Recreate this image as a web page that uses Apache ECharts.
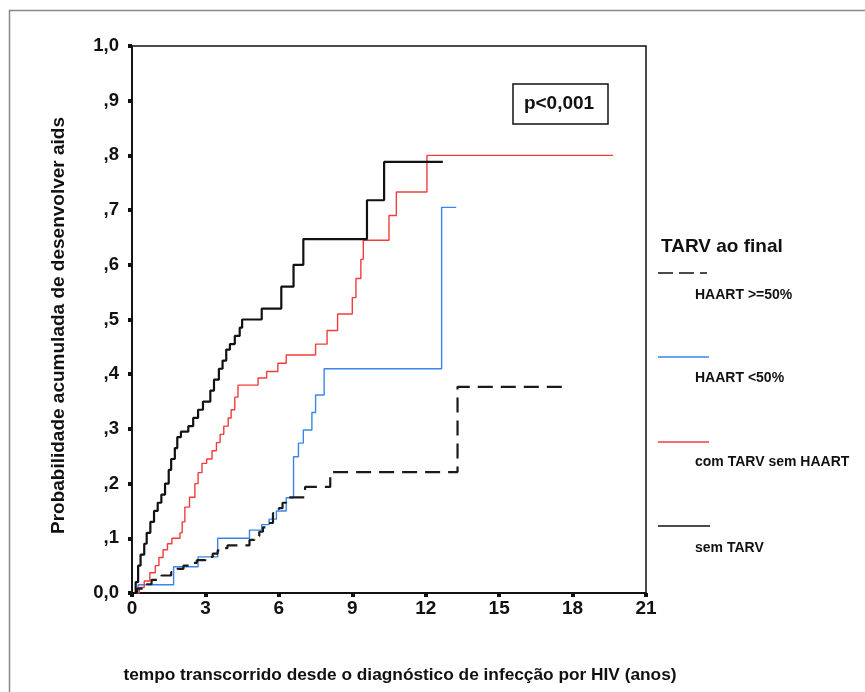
<!DOCTYPE html>
<html>
<head>
<meta charset="utf-8">
<script src="https://cdn.jsdelivr.net/npm/echarts@6/dist/echarts.min.js"></script>
<style>
html,body{margin:0;padding:0;background:#fff;}
#chart{width:865px;height:692px;}
</style>
</head>
<body>
<div id="chart"></div>
<script>
// ---- data (Kaplan-Meier style step values: [years, cumulative probability]) ----
var xTicks = [0, 3, 6, 9, 12, 15, 18, 21];
var yTickLabels = {"0":"0,0","0.1":",1","0.2":",2","0.3":",3","0.4":",4","0.5":",5","0.6":",6","0.7":",7","0.8":",8","0.9":",9","1":"1,0"};
var seriesNames = ["HAART >=50%", "HAART <50%", "com TARV sem HAART", "sem TARV"];

var haartGE50 = [
  [0,0],[0.2,0.008],[0.45,0.016],[0.8,0.024],[1.2,0.032],[1.6,0.038],[1.85,0.044],
  [2.1,0.05],[2.4,0.055],[2.65,0.06],[3.0,0.066],[3.3,0.072],[3.5,0.078],[3.7,0.082],
  [3.9,0.087],[4.8,0.097],[5.0,0.104],[5.2,0.112],[5.35,0.12],[5.5,0.128],[5.76,0.146],
  [6.0,0.155],[6.15,0.165],[6.3,0.175],[7.07,0.194],[8.1,0.221],[13.3,0.377],[17.7,0.377]
];
var haartLT50 = [
  [0,0],[0.25,0.015],[1.7,0.048],[2.7,0.066],[3.5,0.10],[4.8,0.115],[5.3,0.125],
  [5.6,0.135],[5.9,0.15],[6.3,0.174],[6.6,0.249],[6.8,0.274],[7.0,0.298],[7.35,0.33],
  [7.5,0.362],[7.85,0.41],[12.65,0.705],[13.25,0.705]
];
var comTarvSemHaart = [
  [0,0],[0.3,0.01],[0.5,0.022],[0.73,0.037],[0.95,0.05],[1.1,0.065],[1.27,0.079],
  [1.45,0.09],[1.63,0.10],[1.96,0.11],[2.05,0.13],[2.16,0.157],[2.35,0.175],[2.57,0.20],
  [2.7,0.22],[2.86,0.237],[3.05,0.245],[3.27,0.26],[3.45,0.275],[3.6,0.29],[3.75,0.305],
  [3.93,0.32],[4.05,0.335],[4.2,0.358],[4.33,0.38],[5.15,0.393],[5.5,0.405],[5.96,0.42],
  [6.3,0.435],[7.5,0.455],[7.97,0.48],[8.4,0.51],[9.0,0.54],[9.15,0.575],[9.35,0.61],
  [9.45,0.645],[10.5,0.69],[10.8,0.733],[12.05,0.80],[19.65,0.80]
];
var semTarv = [
  [0,0],[0.15,0.02],[0.25,0.05],[0.35,0.07],[0.5,0.09],[0.6,0.11],[0.75,0.13],
  [0.9,0.15],[1.05,0.165],[1.2,0.18],[1.35,0.2],[1.5,0.225],[1.6,0.245],[1.75,0.265],
  [1.85,0.285],[2.0,0.295],[2.3,0.305],[2.5,0.32],[2.7,0.335],[2.9,0.35],[3.2,0.37],
  [3.35,0.39],[3.55,0.41],[3.7,0.425],[3.85,0.445],[4.0,0.455],[4.2,0.47],[4.4,0.485],
  [4.5,0.5],[5.3,0.52],[6.1,0.56],[6.6,0.60],[7.0,0.647],[9.6,0.718],[10.3,0.788],[12.7,0.788]
];

var FONT = '"Liberation Sans", Arial, sans-serif';
var chart = echarts.init(document.getElementById('chart'), null, {renderer:'canvas'});

var option = {
  backgroundColor: '#fff',
  animation: false,
  grid: {left:132, right:219, top:46, bottom:99, show:true, borderColor:'#111', borderWidth:1.5, backgroundColor:'transparent'},
  xAxis: {
    type:'value', min:0, max:21, interval:3,
    name:'tempo transcorrido desde o diagnóstico de infecção por HIV (anos)',
    nameLocation:'middle', nameGap:74,
    nameTextStyle:{fontFamily:FONT, fontWeight:'bold', fontSize:17.3, color:'#111', padding:[0,0,0,22]},
    axisLine:{show:true, onZero:false, lineStyle:{color:'#111', width:1.8}},
    axisTick:{show:true, inside:false, length:4, lineStyle:{color:'#111', width:4}},
    axisLabel:{fontFamily:FONT, fontWeight:'bold', fontSize:19, color:'#111', margin:6},
    splitLine:{show:false}
  },
  yAxis: {
    type:'value', min:0, max:1, interval:0.1,
    name:'Probabilidade acumulada de desenvolver aids',
    nameLocation:'middle', nameGap:64,
    nameTextStyle:{fontFamily:FONT, fontWeight:'bold', fontSize:19, color:'#111', padding:[0,12,0,0]},
    axisLine:{show:true, onZero:false, lineStyle:{color:'#111', width:1.8}},
    axisTick:{show:true, inside:false, length:4, lineStyle:{color:'#111', width:4}},
    axisLabel:{fontFamily:FONT, fontWeight:'bold', fontSize:18.5, color:'#111', margin:13,
      formatter:function(v){ var k = String(Math.round(v*10)/10); return yTickLabels[k] !== undefined ? yTickLabels[k] : ''; }},
    splitLine:{show:false}
  },
  series: [
    {name:seriesNames[0], type:'line', step:'end', data:haartGE50, showSymbol:false, symbol:'none',
     lineStyle:{color:'#1a1a1a', width:2.2, type:[15,8]}, z:3},
    {name:seriesNames[1], type:'line', step:'end', data:haartLT50, showSymbol:false, symbol:'none',
     lineStyle:{color:'#3a86e8', width:1.4}, z:2},
    {name:seriesNames[2], type:'line', step:'end', data:comTarvSemHaart, showSymbol:false, symbol:'none',
     lineStyle:{color:'#f23c3c', width:1.4}, z:2},
    {name:seriesNames[3], type:'line', step:'end', data:semTarv, showSymbol:false, symbol:'none',
     lineStyle:{color:'#111', width:2.2}, z:4}
  ],
  graphic: [
    {type:'rect', silent:true, z:-10, shape:{x:9.5, y:10.5, width:900, height:900}, style:{fill:'none', stroke:'#888', lineWidth:1.5}},
    {type:'rect', shape:{x:513, y:84, width:95, height:40}, style:{fill:'#fff', stroke:'#111', lineWidth:1.5}},
    {type:'text', x:559, y:104, style:{text:'p<0,001', font:'bold 19px '+FONT, fill:'#111', textAlign:'center', textVerticalAlign:'middle'}},
    {type:'text', x:661, y:247, style:{text:'TARV ao final', font:'bold 19px '+FONT, fill:'#111', textVerticalAlign:'middle'}},
    {type:'line', shape:{x1:658, y1:273, x2:707, y2:273}, style:{stroke:'#111', lineWidth:1.5, lineDash:[15,6]}},
    {type:'text', x:695, y:295, style:{text:seriesNames[0], font:'bold 14px '+FONT, fill:'#111', textVerticalAlign:'middle'}},
    {type:'line', shape:{x1:658, y1:357, x2:709, y2:357}, style:{stroke:'#3a86e8', lineWidth:1.3}},
    {type:'text', x:695, y:378, style:{text:seriesNames[1], font:'bold 14px '+FONT, fill:'#111', textVerticalAlign:'middle'}},
    {type:'line', shape:{x1:658, y1:442, x2:709, y2:442}, style:{stroke:'#f23c3c', lineWidth:1.3}},
    {type:'text', x:695, y:462, style:{text:seriesNames[2], font:'bold 14px '+FONT, fill:'#111', textVerticalAlign:'middle'}},
    {type:'line', shape:{x1:658, y1:526, x2:710, y2:526}, style:{stroke:'#111', lineWidth:1.5}},
    {type:'text', x:695, y:548, style:{text:seriesNames[3], font:'bold 14px '+FONT, fill:'#111', textVerticalAlign:'middle'}}
  ]
};
chart.setOption(option);
</script>
</body>
</html>
